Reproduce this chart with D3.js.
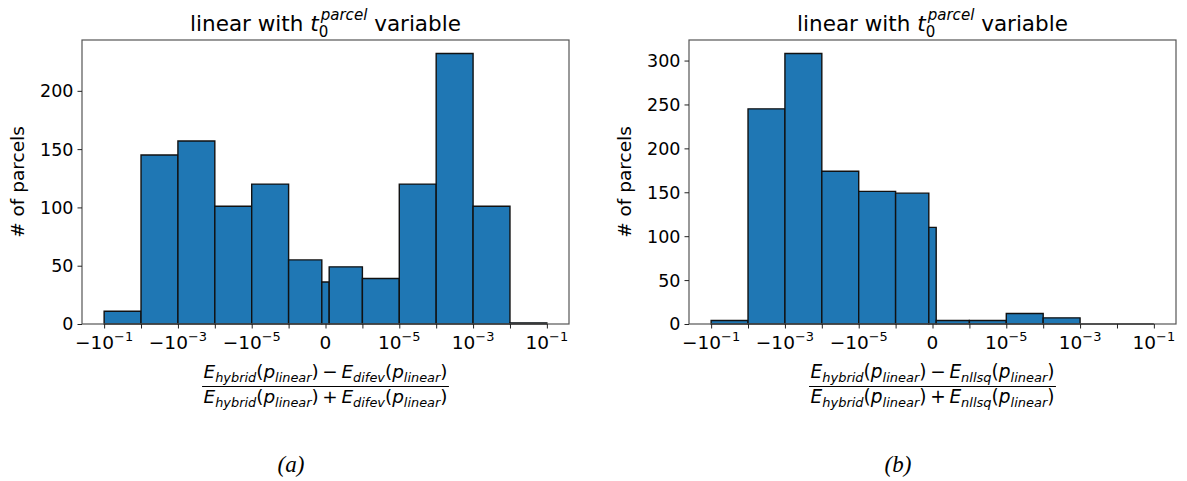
<!DOCTYPE html>
<html><head><meta charset="utf-8">
<script src="https://cdn.jsdelivr.net/npm/d3@7"></script>
<style>body{margin:0;background:#fff}svg{display:block}</style>
</head><body>
<svg id="c" width="1187" height="481"></svg>
<script>
// ---- data ----
const binEdges = [-1e-1,-1e-2,-1e-3,-1e-4,-1e-5,-1e-6,-1e-7,1e-7,1e-6,1e-5,1e-4,1e-3,1e-2,1e-1];
const countsA = [11,145,157,101,120,55,36,49,39,120,232,101,1];
const countsB = [4,245,308,174,151,149,110,4,4,12,7,0,0];
const majorTicks = [-1e-1,-1e-3,-1e-5,0,1e-5,1e-3,1e-1];
const minorTicks = [-1e-2,-1e-4,-1e-6,1e-6,1e-4,1e-2];
const yTicksA = [0,50,100,150,200];
const yTicksB = [0,50,100,150,200,250,300];
const titleText = "linear with";
const yLabel = "# of parcels";
const otherMethods = ["difev","nllsq"];
const captions = ["(a)","(b)"];

const LINTHRESH = 1e-6;
function symlogT(v){
  const a = Math.abs(v);
  if (a < LINTHRESH) return v / LINTHRESH;
  return Math.sign(v) * (1 + Math.log10(a / LINTHRESH));
}

const svg = d3.select("#c");
const FONT = "DejaVu Sans";

function drawMath(g, items, size, cx, by, anchor){
  const grp = g.append("g");
  let cursor = 0, prevX = 0, prevEnd = 0;
  items.forEach(it => {
    const fs = it.lvl ? size*0.7 : size;
    const dy = it.lvl === "sub" ? size*(it.subDy||0.24) : it.lvl === "sup" ? -size*(it.supDy||0.42) : 0;
    const t = grp.append("text").text(it.t)
      .attr("font-family", FONT).attr("font-size", fs)
      .attr("font-style", it.it ? "italic" : "normal")
      .attr("fill", "#000").attr("y", by + dy)
      .style("white-space","pre");
    const w = t.node().getComputedTextLength();
    let x;
    if (it.stack){ x = prevX; cursor = Math.max(prevEnd, x + w + (it.dx||0)); }
    else { x = cursor; prevX = x; cursor = x + w; prevEnd = cursor; }
    t.attr("x", x + (it.dx||0));
  });
  const total = cursor;
  const off = anchor === "start" ? cx : anchor === "end" ? cx - total : cx - total/2;
  grp.attr("transform", `translate(${off},0)`);
  return {grp, total};
}

function drawPanel(ox, counts, yTicks, method, caption){
  const left = ox + 82, right = ox + 569, top = 40, bottom = 324;
  const maxC = d3.max(counts) * 1.05;
  const xs = d3.scaleLinear().domain([-6.6, 6.6]).range([left, right]);
  const x = v => xs(symlogT(v));
  const y = d3.scaleLinear().domain([0, maxC]).range([bottom, top]);
  const g = svg.append("g");

  // bars
  const bins = counts.map((c,i) => ({x0: binEdges[i], x1: binEdges[i+1], c}));
  g.selectAll("path.bar").data(bins).join("path")
    .attr("class","bar")
    .attr("d", d => `M${x(d.x0)},${y(0)}V${y(d.c)}H${x(d.x1)}V${y(0)}Z`)
    .attr("fill", "#1f77b4").attr("stroke", "#111").attr("stroke-width", 1.4)
    .attr("stroke-linejoin","miter");

  // frame
  g.append("rect").attr("x", left).attr("y", top)
    .attr("width", right-left).attr("height", bottom-top)
    .attr("fill","none").attr("stroke","#555").attr("stroke-width",1.2);

  // y axis
  const ya = g.append("g").attr("transform", `translate(${left},0)`)
    .call(d3.axisLeft(y).tickValues(yTicks).tickSize(4.5).tickPadding(4).tickFormat(d3.format("d")));
  ya.select(".domain").remove();
  ya.selectAll("line").attr("stroke","#222").attr("stroke-width",1);
  ya.selectAll("text").attr("font-family", FONT).attr("font-size", 17.5).attr("fill","#000").attr("dy","0.34em");

  // x axis ticks
  const xa = g.append("g").attr("transform", `translate(0,${bottom})`)
    .call(d3.axisBottom(xs)
      .tickValues(majorTicks.concat(minorTicks).map(symlogT)).tickSize(4.5).tickFormat(""));
  xa.select(".domain").remove();
  xa.selectAll("line").attr("stroke","#222").attr("stroke-width",1);

  majorTicks.forEach(v => {
    const px = x(v);
    if (v === 0){
      drawMath(g, [{t:"0"}], 18.5, px, 349, "middle");
    } else {
      const e = Math.round(Math.log10(Math.abs(v)));
      const items = [{t: (v<0 ? "\u2212" : "") + "10"}, {t: "\u2212" + Math.abs(e), lvl:"sup", supDy:0.45}];
      drawMath(g, items, 18.5, px, 349, "middle");
    }
  });

  // y label
  g.append("text").text(yLabel)
    .attr("transform", `translate(${ox+24},${(top+bottom)/2}) rotate(-90)`)
    .attr("text-anchor","middle").attr("font-family",FONT).attr("font-size",18.5).attr("fill","#000");

  // title
  const cx = (left+right)/2;
  drawMath(g, [
    {t: titleText + " "},
    {t: "t", it:true},
    {t: "0", lvl:"sub", subDy:0.27},
    {t: "parcel", it:true, lvl:"sup", stack:true, dx:2, supDy:0.5},
    {t: " variable"}
  ], 21.5, cx, 31, "middle");

  // x label (fraction)
  const part = (op) => [
    {t:"E", it:true},{t:"hybrid", it:true, lvl:"sub"},{t:"("},{t:"p", it:true},{t:"linear", it:true, lvl:"sub"},{t:")"},
    {t:"\u2009" + op + "\u2009"},
    {t:"E", it:true},{t:method, it:true, lvl:"sub"},{t:"("},{t:"p", it:true},{t:"linear", it:true, lvl:"sub"},{t:")"}
  ];
  const probe = drawMath(g, part("\u2212"), 17, cx, 377, "middle");
  const fs = 17 * 244 / probe.total;
  probe.grp.remove();
  const n = drawMath(g, part("\u2212"), fs, cx, 378, "middle");
  const d = drawMath(g, part("+"), fs, cx, 403, "middle");
  const w = Math.max(n.total, d.total) + 3;
  g.append("line").attr("x1", cx - w/2).attr("x2", cx + w/2).attr("y1", 386.5).attr("y2", 386.5)
    .attr("stroke","#000").attr("stroke-width",1);

  // caption
  g.append("text").text(caption).attr("x", ox + 291).attr("y", 472)
    .attr("text-anchor","middle").attr("font-family","Liberation Serif").attr("font-style","italic")
    .attr("font-size",23).attr("fill","#000");
}

drawPanel(0, countsA, yTicksA, otherMethods[0], captions[0]);
drawPanel(607, countsB, yTicksB, otherMethods[1], captions[1]);
</script>
</body></html>
